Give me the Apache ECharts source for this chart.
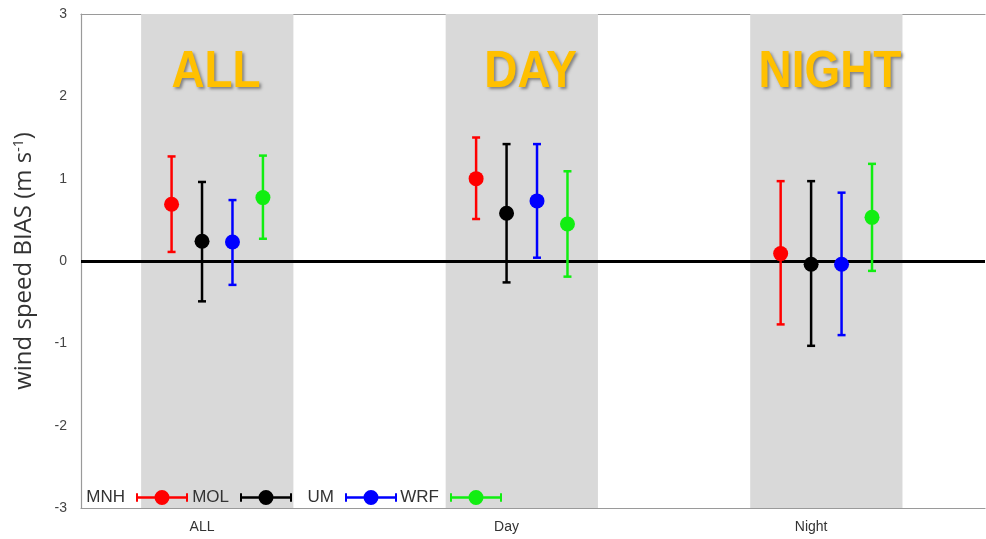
<!DOCTYPE html>
<html>
<head>
<meta charset="utf-8">
<script src="https://cdn.jsdelivr.net/npm/echarts@6/dist/echarts.min.js"></script>
<style>
  html, body { margin: 0; padding: 0; background: #fff; }
  #chart { width: 986px; height: 539px; }
</style>
</head>
<body>
<div id="chart"></div>
<script>
// Wind speed bias per period, one error bar (low / mean / high) per model
const categories = ['ALL', 'Day', 'Night'];
const panelTitles = ['ALL', 'DAY', 'NIGHT'];
const modelNames = ['MNH', 'MOL', 'UM', 'WRF'];

const mnhMean = [0.69, 1.00, 0.09];
const mnhLow  = [0.11, 0.51, -0.77];
const mnhHigh = [1.27, 1.50, 0.97];

const molMean = [0.24, 0.58, -0.04];
const molLow  = [-0.49, -0.26, -1.03];
const molHigh = [0.96, 1.42, 0.97];

const umMean = [0.23, 0.73, -0.04];
const umLow  = [-0.29, 0.04, -0.90];
const umHigh = [0.74, 1.42, 0.83];

const wrfMean = [0.77, 0.45, 0.53];
const wrfLow  = [0.27, -0.19, -0.12];
const wrfHigh = [1.28, 1.09, 1.18];

const yTicks = [-3, -2, -1, 0, 1, 2, 3];

// heading anchors in axis units (period position, bias)
const headingX = [1.046, 2.079, 3.062];
const headingY = [2.28, 2.28, 2.28];

const modelColors = ['#ff0000', '#000000', '#0000ff', '#11ee11'];
const modelOffsets = [-0.1, 0, 0.1, 0.2];
const modelStats = [
  [mnhMean, mnhLow, mnhHigh],
  [molMean, molLow, molHigh],
  [umMean, umLow, umHigh],
  [wrfMean, wrfLow, wrfHigh]
];

const FONT = '"Liberation Sans", Arial, sans-serif';
const NAME_FONT = '"Open Sans", "Liberation Sans", sans-serif';
const FRAME = '#9a9a9a';

// error bar: vertical whisker, short caps, filled dot at the mean
function renderErrorBar(params, api) {
  const x = api.value(0);
  const top = api.coord([x, api.value(3)]);
  const bot = api.coord([x, api.value(2)]);
  const mid = api.coord([x, api.value(1)]);
  const color = api.visual('color');
  const cap = 4;
  const line = { stroke: color, lineWidth: 2.5 };
  return {
    type: 'group',
    children: [
      { type: 'line', shape: { x1: top[0], y1: top[1], x2: bot[0], y2: bot[1] }, style: line },
      { type: 'line', shape: { x1: top[0] - cap, y1: top[1], x2: top[0] + cap, y2: top[1] }, style: line },
      { type: 'line', shape: { x1: bot[0] - cap, y1: bot[1], x2: bot[0] + cap, y2: bot[1] }, style: line },
      { type: 'circle', shape: { cx: mid[0], cy: mid[1], r: 7.5 }, style: { fill: color } }
    ]
  };
}

// legend glyph: horizontal error bar with a dot
const legendIcon = 'path://M0,4h2v3h17v2.5h-17v3h-2z M33,7h17v-3h2v8.5h-2v-3h-17z M33.5,8.25a7.5,7.5 0 1,1 -15,0a7.5,7.5 0 1,1 15,0z';
// one key per model, text to the left of its glyph; offsets from the right edge
const legendRight = [793, 689, 584, 479];

const modelSeries = modelNames.map(function (name, m) {
  const [mean, low, high] = modelStats[m];
  return {
    name: name,
    type: 'custom',
    renderItem: renderErrorBar,
    itemStyle: { color: modelColors[m] },
    z: 5,
    data: categories.map(function (c, i) {
      return [i + 1 + modelOffsets[m], mean[i], low[i], high[i]];
    })
  };
});

// shaded period panels and the zero line
const backdropSeries = {
  name: 'backdrop',
  type: 'custom',
  silent: true,
  z: 1,
  renderItem: function () { return { type: 'group', children: [] }; },
  data: [],
  markArea: {
    silent: true,
    itemStyle: { color: '#d9d9d9' },
    data: categories.map(function (c, i) {
      return [{ xAxis: i + 1 - 0.2 }, { xAxis: i + 1 + 0.3 }];
    })
  },
  markLine: {
    silent: true,
    symbol: 'none',
    label: { show: false },
    lineStyle: { color: '#000', width: 3, type: 'solid' },
    data: [{ yAxis: 0 }]
  }
};

// big period headings
const headingSeries = {
  name: 'headings',
  type: 'custom',
  silent: true,
  z: 3,
  renderItem: function (params, api) {
    const p = api.coord([api.value(0), api.value(1)]);
    return {
      type: 'text',
      x: p[0],
      y: p[1],
      scaleX: 0.9,
      style: {
        text: panelTitles[params.dataIndex],
        fill: '#ffc000',
        font: 'bold 51px "Liberation Sans", Arial, sans-serif',
        align: 'center',
        verticalAlign: 'middle',
        textShadowColor: 'rgba(60,60,60,0.55)',
        textShadowBlur: 3,
        textShadowOffsetX: 2,
        textShadowOffsetY: 2
      }
    };
  },
  data: panelTitles.map(function (t, i) { return [headingX[i], headingY[i]]; })
};

const legends = modelNames.map(function (n, m) {
  return {
    data: [{ name: n, icon: legendIcon }],
    right: legendRight[m],
    top: 484,
    align: 'right',
    orient: 'horizontal',
    itemWidth: 52,
    itemHeight: 16,
    selectedMode: false,
    formatter: function (name) { return '{t|' + name + '}{g|}'; },
    textStyle: {
      rich: {
        t: { fontSize: 17, fontFamily: FONT, color: '#333' },
        g: { width: 6 }
      }
    }
  };
});

const X_MIN = 0.6026;
const X_MAX = 3.571;

const chart = echarts.init(document.getElementById('chart'), null, { renderer: 'canvas' });
chart.setOption({
  animation: false,
  backgroundColor: '#ffffff',
  grid: { left: 81, top: 14, bottom: 31, right: 1, show: false },
  legend: legends,
  xAxis: [
    {
      type: 'value',
      min: X_MIN,
      max: X_MAX,
      position: 'bottom',
      splitLine: { show: false },
      axisLine: { show: true, onZero: false, lineStyle: { color: FRAME, width: 1.2 } },
      axisTick: { show: false },
      axisLabel: {
        customValues: [1, 2, 3],
        formatter: function (v) { return categories[Math.round(v) - 1]; },
        color: '#333',
        fontSize: 14,
        fontFamily: FONT,
        margin: 12
      }
    },
    {
      type: 'value',
      min: X_MIN,
      max: X_MAX,
      position: 'top',
      splitLine: { show: false },
      axisLine: { show: true, onZero: false, lineStyle: { color: FRAME, width: 1.2 } },
      axisLabel: { show: false },
      axisTick: {
        show: true, inside: true, length: 3,
        customValues: [1, 2, 3],
        lineStyle: { color: FRAME }
      }
    }
  ],
  yAxis: {
    type: 'value',
    min: yTicks[0],
    max: yTicks[yTicks.length - 1],
    interval: 1,
    splitLine: { show: false },
    axisLine: { show: true, onZero: false, lineStyle: { color: FRAME, width: 1.2 } },
    axisTick: { show: false },
    axisLabel: { color: '#444', fontSize: 14, fontFamily: FONT, margin: 14 },
    name: '{a|wind speed BIAS (m s}{s|-1}{a|)}',
    nameLocation: 'middle',
    nameRotate: 90,
    nameGap: 45,
    nameTextStyle: {
      rich: {
        a: { fontSize: 24, fontFamily: NAME_FONT, color: '#333' },
        s: { fontSize: 14, fontFamily: NAME_FONT, color: '#333', verticalAlign: 'top', padding: [0, 0, 10, 0] }
      }
    }
  },
  series: [backdropSeries, headingSeries].concat(modelSeries)
});
</script>
</body>
</html>
